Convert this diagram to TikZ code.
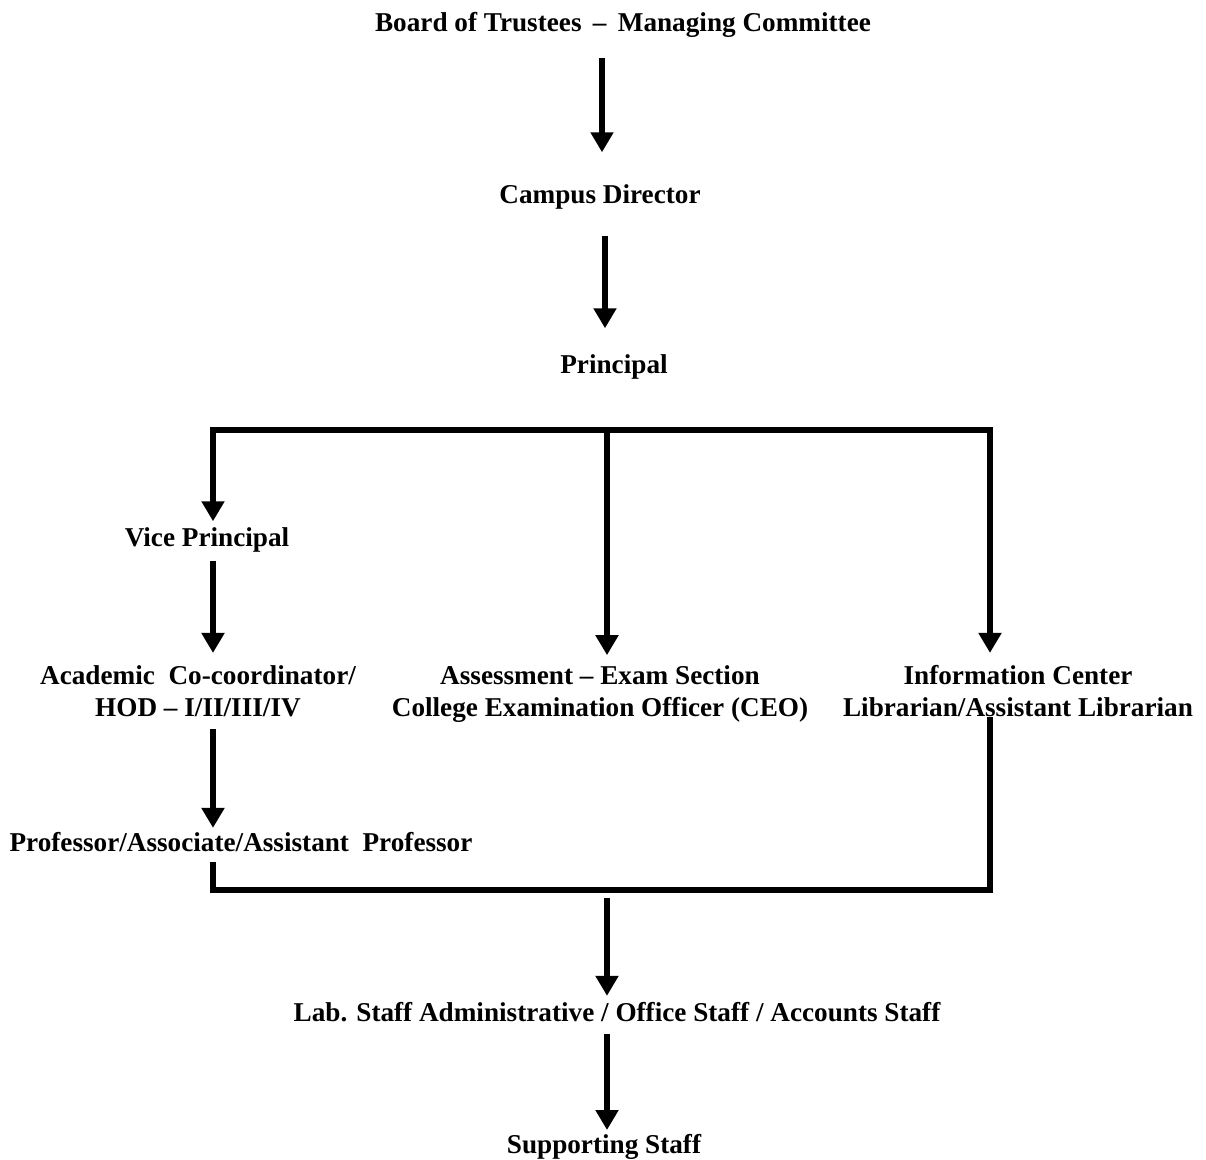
\documentclass[tikz,border=0pt]{standalone}
\usepackage{fontspec}
\setmainfont{Liberation Serif}
\usetikzlibrary{arrows.meta,positioning}

\begin{document}
\begin{tikzpicture}[x=0.5pt, y=-0.5pt,
    every node/.style={font=\bfseries\fontsize{13.6}{16}\selectfont, align=center, inner sep=0pt},
    bus/.style={line width=2.6pt},
    link/.style={bus, -{Triangle[length=10pt,width=11pt]}, shorten <=6pt, shorten >=6pt}]
  \useasboundingbox (0,0) rectangle (1206,1160);
  % column lines
  \coordinate (cL) at (213,0);
  \coordinate (cM) at (607,0);
  \coordinate (cR) at (990,0);
  \node (board)  at (623,25)   {Board of Trustees \,--\, Managing Committee};
  \node (campus) at (600,197)  {Campus Director};
  \node (prin)   at (614,367)  {Principal};
  \node (vp)     at (207,540)  {Vice Principal};
  \node (acad)   at (198,691)  {Academic\ \ Co-coordinator/\\HOD -- I/II/III/IV};
  \node (assess) at (600,694)  {Assessment -- Exam Section\\College\ Examination\ Officer (CEO)};
  \node (info)   at (1018,691) {Information\ Center\\Librarian/Assistant\ Librarian};
  \node (prof)   at (241,842)  {Professor/Associate/Assistant\ \ Professor};
  \node (lab)    at (617,1012) {Lab. Staff Administrative / Office Staff / Accounts\ Staff};
  \node (supp)   at (604,1147) {Supporting Staff};
  % bus under principal
  \coordinate (busL) at (213,430);
  \coordinate (busM) at (607,430);
  \coordinate (busR) at (990,430);
  % bus above lab staff
  \coordinate (botL) at (213,890);
  \coordinate (botM) at (607,898);
  \coordinate (botR) at (990,890);

  \draw[link, shorten <=10pt, shorten >=16pt] (board.south -| 602,0) -- (campus.north -| 602,0);
  \draw[link, shorten <=13pt, shorten >=13pt] (campus.south -| 605,0) -- (prin.north -| 605,0);
  \draw[link, shorten <=0pt, shorten >=3pt] (busR) -- (busL) -- (vp.north -| cL);
  \draw[link, shorten <=0pt, shorten >=5pt] (busM) -- (assess.north -| cM);
  \draw[link, shorten <=0pt] (busL) -- (busR) -- (info.north -| cR);
  \draw[link, shorten <=4pt] (vp.south -| cL) -- (acad.north -| cL);
  \draw[link, shorten >=2pt] (acad.south -| cL) -- (prof.north -| cL);
  \draw[bus, shorten <=5pt] (prof.south -| cL) -- (botL) -- (botR) -- (info.south -| cR);
  \draw[link, shorten <=0pt, shorten >=3pt] (botM) -- (lab.north -| cM);
  \draw[link, shorten >=2pt] (lab.south -| cM) -- (supp.north -| cM);
\end{tikzpicture}
\end{document}
